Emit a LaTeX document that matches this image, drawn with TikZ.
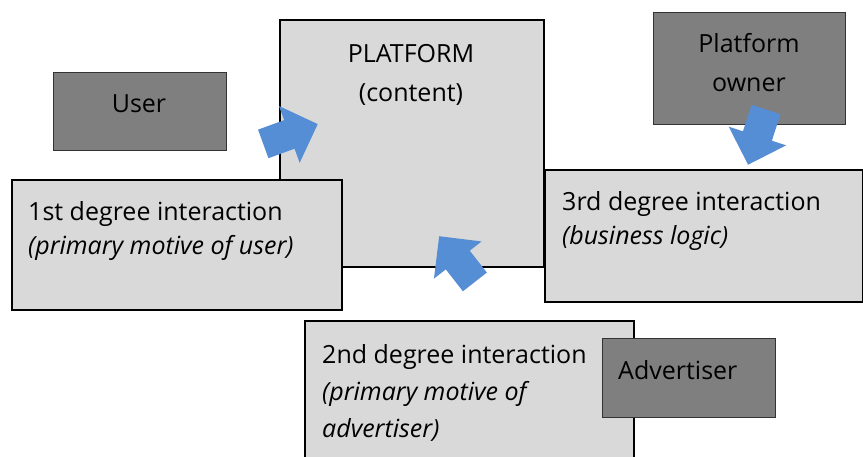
\documentclass[tikz,border=0pt]{standalone}
\usepackage{fontspec}
\setmainfont{Open Sans}
\usepackage{tikz}
\usetikzlibrary{shapes.arrows,positioning}
\definecolor{lightfill}{HTML}{D9D9D9}
\definecolor{darkfill}{HTML}{7F7F7F}
\definecolor{arrowblue}{HTML}{558ED5}
\tikzstyle{lightbox}=[rectangle, draw=black, line width=1.6pt, fill=lightfill, anchor=north west, inner sep=0pt]
\tikzstyle{darkbox}=[rectangle, draw=black!80, line width=1pt, fill=darkfill, anchor=north west, inner sep=0pt]
\tikzstyle{boxtext}=[align=left, anchor=base west, inner sep=0pt, font=\fontsize{25}{34}\selectfont]
\tikzstyle{mid}=[align=center, anchor=base, font=\fontsize{25}{39}\selectfont]
\tikzstyle{blockarrow}=[single arrow, fill=arrowblue, draw=none, inner xsep=0pt, inner ysep=15pt, minimum height=58pt, single arrow head extend=15pt, anchor=tip]
\newcommand{\panel}{\node[lightbox]}
\newcommand{\actor}{\node[darkbox]}
\newcommand{\blockarrow}{\node[blockarrow]}

\begin{document}
\begin{tikzpicture}[x=1pt, y=-1pt]
            \useasboundingbox (0,0) rectangle (863,457);
            \clip (0,0) rectangle (863,457);
            \panel (platform) at (279,19) [minimum width=264pt, minimum height=247pt]{};
            \panel (first) at (11,179) [minimum width=330pt, minimum height=130pt]{};
            \panel (third) at (544,169) [minimum width=318pt, minimum height=132pt]{};
            \panel (second) at (304,320) [minimum width=329pt, minimum height=160pt]{};
            \actor (advertiser) at (602,338) [minimum width=173pt, minimum height=79pt]{};
            \actor (user) at (53,72) [minimum width=173pt, minimum height=78pt]{};
            \actor (owner) at (653,12) [minimum width=192pt, minimum height=112pt]{};
            % multi-line texts sit on the baseline of their last line
            \node[boxtext, mid] (platformtext) at (411,102) {PLATFORM\\(content)};
            \node[boxtext, mid] (usertext) at (139,113) {User};
            \node[boxtext, mid] (ownertext) at (749,92) {Platform\\owner};
            \node[boxtext] (firsttext) at (28,255) {1st degree interaction\\\textit{(primary motive of user)}};
            \node[boxtext] (thirdtext) at (562,245) {3rd degree interaction\\\textit{(business logic)}};
            \node[boxtext, font=\fontsize{25}{37}\selectfont] (secondtext) at (322,437) {2nd degree interaction\\\textit{(primary motive of}\\\textit{advertiser)}};
            \node[boxtext] (advertisertext) at (618,379) {Advertiser};
            % arrows placed by their tips
            \blockarrow (userarrow) at (318,124) [rotate=20]{};
            \blockarrow (advertiserarrow) at (439,236) [rotate=128]{};
            \blockarrow (ownerarrow) at (748,165) [rotate=-108]{};
        \end{tikzpicture}
\end{document}
